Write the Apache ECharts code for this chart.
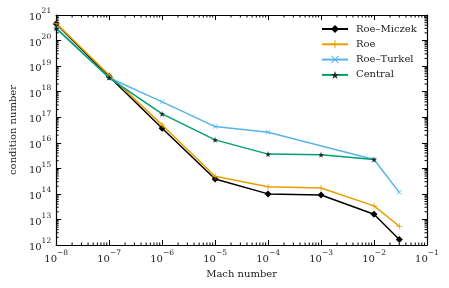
<!DOCTYPE html>
<html><head><meta charset="utf-8">
<script src="https://cdn.jsdelivr.net/npm/echarts@6/dist/echarts.min.js"></script>
<style>html,body{margin:0;padding:0;background:#fff}#c{width:449px;height:288px}</style>
</head><body><div id="c"></div>
<script>
const mach = [1e-8, 1e-7, 1e-6, 1e-5, 1e-4, 1e-3, 1e-2, 3e-2];
const roeMiczek = [4.5e20, 3.9e18, 3.7e16, 3.8e14, 1.0e14, 9.0e13, 1.6e13, 1.65e12];
const roe = [4.7e20, 4.5e18, 5.0e16, 4.9e14, 1.9e14, 1.7e14, 3.4e13, 5.4e12];
const roeTurkelX = [1e-8, 1e-7, 1e-6, 1e-5, 1e-4, 1e-2, 3e-2];
const roeTurkel = [3.1e20, 3.5e18, 4.0e17, 4.3e16, 2.6e16, 2.2e15, 1.15e14];
const centralX = [1e-8, 1e-7, 1e-6, 1e-5, 1e-4, 1e-3, 1e-2];
const central = [3.0e20, 3.5e18, 1.35e17, 1.3e16, 3.6e15, 3.4e15, 2.2e15];
const xDecades = [-8, -7, -6, -5, -4, -3, -2];
const yDecades = [12, 13, 14, 15, 16, 17, 18, 19, 20];
const minorMult = [2, 3, 4, 5, 6, 7, 8, 9];

const FONT = 'DejaVu Serif';
const XMIN = 1e-8, XMAX = 1e-1, YMIN = 1e12, YMAX = 1e21;
const pair = (xs, ys) => xs.map((x, i) => [x, ys[i]]);
const supLabel = v => {
  const e = Math.round(Math.log10(v));
  return '{b|10}{s|' + (e < 0 ? '\u2212' + (-e) : e) + '}';
};
const rich = {
  b: {fontSize: 10, fontFamily: FONT, color: '#222', verticalAlign: 'bottom', lineHeight: 15},
  s: {fontSize: 7.5, fontFamily: FONT, color: '#222', verticalAlign: 'top', lineHeight: 15}
};
const plusPath = 'path://M-0.12,-1H0.12V-0.12H1V0.12H0.12V1H-0.12V0.12H-1V-0.12H-0.12Z';
const xPath = 'path://M-1,-0.82L-0.82,-1L0,-0.18L0.82,-1L1,-0.82L0.18,0L1,0.82L0.82,1L0,0.18L-0.82,1L-1,0.82L-0.18,0Z';
const starPath = 'path://M0,-1L0.225,-0.31L0.95,-0.31L0.36,0.12L0.59,0.81L0,0.38L-0.59,0.81L-0.36,0.12L-0.95,-0.31L-0.225,-0.31Z';

const xMinor = [];
xDecades.forEach(d => minorMult.forEach(m => xMinor.push([m * Math.pow(10, d), YMIN])));
const yMinor = [];
yDecades.forEach(d => minorMult.forEach(m => yMinor.push([XMIN, m * Math.pow(10, d)])));

const axisCommon = {
  type: 'log', logBase: 10,
  axisLine: {show: true, onZero: false, lineStyle: {color: '#000', width: 1.2}},
  axisTick: {show: true, inside: true, length: 5, lineStyle: {color: '#000'}},
  minorTick: {show: false},
  splitLine: {show: false}
};
const tickLine = (x1, y1, x2, y2) => ({type: 'line', shape: {x1, y1, x2, y2}, style: {stroke: '#000', lineWidth: 1}});

const chart = echarts.init(document.getElementById('c'));
chart.setOption({
  animation: false,
  grid: {left: 54, right: 22, top: 15, bottom: 43},
  legend: {
    orient: 'vertical', left: 321, top: 24, padding: 0, itemGap: 5.3, itemWidth: 26, itemHeight: 10,
    textStyle: {fontFamily: FONT, fontSize: 10, color: '#222', padding: [0, 0, 0, 3]},
    data: ['Roe\u2013Miczek', 'Roe', 'Roe\u2013Turkel', 'Central']
  },
  xAxis: [
    Object.assign({}, axisCommon, {
      min: XMIN, max: XMAX, position: 'bottom',
      axisLabel: {formatter: supLabel, rich: rich, margin: 4},
      name: 'Mach number', nameLocation: 'middle', nameGap: 24,
      nameTextStyle: {fontFamily: FONT, fontSize: 10, color: '#222'}
    }),
    Object.assign({}, axisCommon, {min: XMIN, max: XMAX, position: 'top', axisLabel: {show: false}})
  ],
  yAxis: [
    Object.assign({}, axisCommon, {
      min: YMIN, max: YMAX, position: 'left',
      axisLabel: {formatter: supLabel, rich: rich, margin: 5},
      name: 'condition number', nameLocation: 'middle', nameGap: 38,
      nameTextStyle: {fontFamily: FONT, fontSize: 10, color: '#222'}
    }),
    Object.assign({}, axisCommon, {min: YMIN, max: YMAX, position: 'right', axisLabel: {show: false}})
  ],
  series: [
    {name: 'Roe\u2013Miczek', type: 'line', data: pair(mach, roeMiczek), symbol: 'diamond', symbolSize: 7,
      lineStyle: {color: '#000', width: 1.5}, itemStyle: {color: '#000'}, z: 2},
    {name: 'Roe', type: 'line', data: pair(mach, roe), symbol: plusPath, symbolSize: 6,
      lineStyle: {color: '#E69F00', width: 1.5}, itemStyle: {color: '#E69F00'}, z: 3},
    {name: 'Roe\u2013Turkel', type: 'line', data: pair(roeTurkelX, roeTurkel), symbol: xPath, symbolSize: 5,
      lineStyle: {color: '#56B4E9', width: 1.5}, itemStyle: {color: '#56B4E9'}, z: 4},
    {name: 'Central', type: 'line', data: pair(centralX, central), symbol: starPath, symbolSize: 6,
      lineStyle: {color: '#009E73', width: 1.5}, itemStyle: {color: '#1a2a22'}, z: 5},
    {type: 'custom', name: 'xminor', data: xMinor, silent: true, clip: false, z: 10,
      renderItem: (params, api) => {
        const v = api.value(0);
        const b = api.coord([v, YMIN]), t = api.coord([v, YMAX]);
        return {type: 'group', children: [tickLine(b[0], b[1], b[0], b[1] - 2.5), tickLine(t[0], t[1], t[0], t[1] + 2.5)]};
      }},
    {type: 'custom', name: 'yminor', data: yMinor, silent: true, clip: false, z: 10,
      renderItem: (params, api) => {
        const v = api.value(1);
        const l = api.coord([XMIN, v]), r = api.coord([XMAX, v]);
        return {type: 'group', children: [tickLine(l[0], l[1], l[0] + 2.5, l[1]), tickLine(r[0], r[1], r[0] - 2.5, r[1])]};
      }}
  ]
});
</script></body></html>
